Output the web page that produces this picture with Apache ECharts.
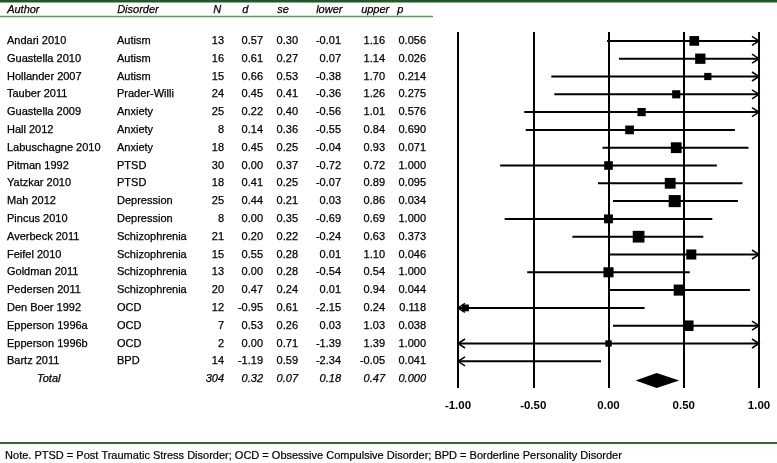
<!DOCTYPE html>
<html>
<head>
<meta charset="utf-8">
<script src="https://cdn.jsdelivr.net/npm/echarts@6/dist/echarts.min.js"></script>
<style>
    html, body { margin: 0; padding: 0; background: #fff; }
    #chart { width: 777px; height: 463px; }
</style>
</head>
<body>
<div id="chart"></div>
<script>
// study table
let authors = ['Andari 2010', 'Guastella 2010', 'Hollander 2007', 'Tauber 2011', 'Guastella 2009', 'Hall 2012',
    'Labuschagne 2010', 'Pitman 1992', 'Yatzkar 2010', 'Mah 2012', 'Pincus 2010', 'Averbeck 2011', 'Feifel 2010',
    'Goldman 2011', 'Pedersen 2011', 'Den Boer 1992', 'Epperson 1996a', 'Epperson 1996b', 'Bartz 2011'];
let disorders = ['Autism', 'Autism', 'Autism', 'Prader-Willi', 'Anxiety', 'Anxiety', 'Anxiety', 'PTSD', 'PTSD',
    'Depression', 'Depression', 'Schizophrenia', 'Schizophrenia', 'Schizophrenia', 'Schizophrenia', 'OCD', 'OCD',
    'OCD', 'BPD'];
let nVals = [13, 16, 15, 24, 25, 8, 18, 30, 18, 25, 8, 21, 15, 13, 20, 12, 7, 2, 14];
let dVals = [0.57, 0.61, 0.66, 0.45, 0.22, 0.14, 0.45, 0.00, 0.41, 0.44, 0.00, 0.20, 0.55, 0.00, 0.47, -0.95, 0.53, 0.00, -1.19];
let seVals = [0.30, 0.27, 0.53, 0.41, 0.40, 0.36, 0.25, 0.37, 0.25, 0.21, 0.35, 0.22, 0.28, 0.28, 0.24, 0.61, 0.26, 0.71, 0.59];
let lowerVals = [-0.01, 0.07, -0.38, -0.36, -0.56, -0.55, -0.04, -0.72, -0.07, 0.03, -0.69, -0.24, 0.01, -0.54, 0.01, -2.15, 0.03, -1.39, -2.34];
let upperVals = [1.16, 1.14, 1.70, 1.26, 1.01, 0.84, 0.93, 0.72, 0.89, 0.86, 0.69, 0.63, 1.10, 0.54, 0.94, 0.24, 1.03, 1.39, -0.05];
let pVals = [0.056, 0.026, 0.214, 0.275, 0.576, 0.690, 0.071, 1.000, 0.095, 0.034, 1.000, 0.373, 0.046, 1.000, 0.044, 0.118, 0.038, 1.000, 0.041];

let totalN = 304;
let totalD = 0.32;
let totalSe = 0.07;
let totalLower = 0.18;
let totalUpper = 0.47;
let totalP = 0.000;

let xTicks = [-1.00, -0.50, 0.00, 0.50, 1.00];
let headers = ['Author', 'Disorder', 'N', 'd', 'se', 'lower', 'upper', 'p'];
let note = 'Note. PTSD = Post Traumatic Stress Disorder; OCD = Obsessive Compulsive Disorder; BPD = Borderline Personality Disorder';

let rowLabels = authors.concat(['Total']);
let font = '"Liberation Sans", Arial, sans-serif';
let xMin = xTicks[0], xMax = xTicks[xTicks.length - 1];

// column anchors of the table (px) and alignment
let columns = [
    {x: 7, align: 'left', head: 7},
    {x: 117, align: 'left', head: 117},
    {x: 224, align: 'right', head: 213},
    {x: 263, align: 'right', head: 242},
    {x: 298, align: 'right', head: 277},
    {x: 341, align: 'right', head: 316},
    {x: 385, align: 'right', head: 361},
    {x: 426, align: 'right', head: 397}
];

let tableRows = authors.map(function (a, i) {
    return [0, i, a, disorders[i], String(nVals[i]), dVals[i].toFixed(2), seVals[i].toFixed(2),
        lowerVals[i].toFixed(2), upperVals[i].toFixed(2), pVals[i].toFixed(3)];
});
tableRows.push([0, authors.length, 'Total', '', String(totalN), totalD.toFixed(2), totalSe.toFixed(2),
    totalLower.toFixed(2), totalUpper.toFixed(2), totalP.toFixed(3)]);

let renderTableRow = function (params, api) {
    let row = api.value(1);
    let y = api.coord([0, row])[1];
    let isTotal = row === authors.length;
    let children = [];
    columns.forEach(function (c, k) {
        let txt = tableRows[params.dataIndex][k + 2];
        if (!txt) return;
        let x = c.x;
        if (isTotal && k === 0) x = 37;
        children.push({
            type: 'text',
            x: api.coord([x, row])[0],
            y: y,
            style: {
                text: txt,
                align: c.align,
                verticalAlign: 'middle',
                fill: '#000',
                stroke: '#000',
                lineWidth: 0.25,
                font: (isTotal ? 'italic ' : '') + '11px ' + font
            }
        });
    });
    return {type: 'group', children: children};
};

let arrow = function (p, dir) {
    return {
        type: 'polyline',
        shape: {points: [[p[0] - dir * 7, p[1] - 4.5], [p[0], p[1]], [p[0] - dir * 7, p[1] + 4.5]]},
        style: {stroke: '#000', lineWidth: 1.5, fill: null}
    };
};

let studyData = authors.map(function (a, i) {
    return [dVals[i], i, lowerVals[i], upperVals[i], seVals[i]];
});

let renderStudy = function (params, api) {
    let d = api.value(0), row = api.value(1), lo = api.value(2), hi = api.value(3), se = api.value(4);
    let p1 = api.coord([Math.max(lo, xMin), row]);
    let p2 = api.coord([Math.min(hi, xMax), row]);
    let children = [{
        type: 'line',
        shape: {x1: p1[0], y1: p1[1], x2: p2[0], y2: p2[1]},
        style: {stroke: '#000', lineWidth: 2}
    }];
    if (hi > xMax) children.push(arrow(p2, 1));
    if (lo < xMin) children.push(arrow(p1, -1));
    if (d >= xMin && d <= xMax) {
        let c = api.coord([d, row]);
        // marker size grows with precision (1/se)
        let s = 4 + 1.7 / se;
        children.push({
            type: 'rect',
            shape: {x: c[0] - s / 2, y: c[1] - s / 2, width: s, height: s},
            style: {fill: '#000'}
        });
    }
    return {type: 'group', children: children};
};

let renderTotal = function (params, api) {
    let row = api.value(1);
    let l = api.coord([api.value(2), row]);
    let m = api.coord([api.value(0), row]);
    let r = api.coord([api.value(3), row]);
    return {
        type: 'polygon',
        shape: {points: [[l[0], l[1] + 1.5], [m[0], m[1] - 6], [r[0], r[1] + 1.5], [m[0], m[1] + 9]]},
        style: {fill: '#000'}
    };
};

let headerTexts = headers.map(function (h, k) {
    return {
        type: 'text',
        left: columns[k].head,
        top: 4,
        style: {text: h, fill: '#000', stroke: '#000', lineWidth: 0.25, font: 'italic 11px ' + font}
    };
});

let chart = echarts.init(document.getElementById('chart'));
let option = {
    animation: false,
    backgroundColor: '#fff',
    grid: [
        {left: 0, width: 450, top: 32, bottom: 75},
        {left: 458, right: 18, top: 32, bottom: 75}
    ],
    xAxis: [
        {gridIndex: 0, type: 'value', min: 0, max: 450, show: false},
        {
            gridIndex: 1, type: 'value', min: xMin, max: xMax, interval: 0.5,
            axisLine: {show: false},
            axisTick: {show: false},
            axisLabel: {
                margin: 12, color: '#000', fontWeight: 'bold', fontSize: 11.5, fontFamily: font,
                formatter: function (v) { return v.toFixed(2); }
            },
            splitLine: {show: true, lineStyle: {color: '#000', width: 2}}
        }
    ],
    yAxis: [
        {gridIndex: 0, type: 'category', data: rowLabels, inverse: true, show: false},
        {gridIndex: 1, type: 'category', data: rowLabels, inverse: true, show: false}
    ],
    series: [
        {
            type: 'custom', xAxisIndex: 0, yAxisIndex: 0,
            renderItem: renderTableRow, data: tableRows.map(function (r) { return [r[0], r[1]]; }),
            encode: {x: 0, y: 1}, silent: true
        },
        {
            type: 'custom', xAxisIndex: 1, yAxisIndex: 1,
            renderItem: renderStudy, data: studyData,
            encode: {x: [0, 2, 3], y: 1}, silent: true
        },
        {
            type: 'custom', xAxisIndex: 1, yAxisIndex: 1,
            renderItem: renderTotal, data: [[totalD, authors.length, totalLower, totalUpper]],
            encode: {x: [0, 2, 3], y: 1}, silent: true
        }
    ],
    graphic: [
        {type: 'rect', left: 0, top: 0, shape: {width: 777, height: 2.5}, style: {fill: '#1f5a22'}},
        {type: 'line', shape: {x1: 0, y1: 16.5, x2: 433, y2: 16.5}, style: {stroke: '#5c9a5c', lineWidth: 1.5}},
        {type: 'rect', left: 0, top: 442, shape: {width: 777, height: 2}, style: {fill: '#2d6b2f'}},
        {
            type: 'text', left: 5, top: 450,
            style: {text: note, fill: '#000', stroke: '#000', lineWidth: 0.2, font: '11px ' + font}
        }
    ].concat(headerTexts)
};
chart.setOption(option);
</script>
</body>
</html>
